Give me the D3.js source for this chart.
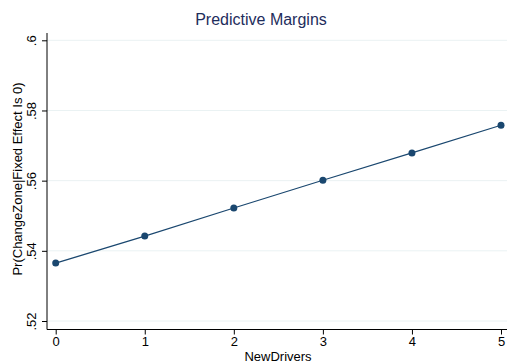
<!DOCTYPE html>
<html><head><meta charset="utf-8">
<script src="https://cdn.jsdelivr.net/npm/d3@7/dist/d3.min.js"></script>
<style>body{margin:0;background:#fff}svg{display:block}text{font-family:"Liberation Sans",Arial,sans-serif}</style>
</head><body><svg id="c" width="507" height="362"></svg>
<script>
const xValues = [0, 1, 2, 3, 4, 5];
const margins = [0.5365, 0.5442, 0.5522, 0.5601, 0.5679, 0.5758];
const yTicks = [0.52, 0.54, 0.56, 0.58, 0.6];
const yTickLabels = [".52", ".54", ".56", ".58", ".6"];
const chartTitle = "Predictive Margins";
const xTitle = "NewDrivers";
const yTitle = "Pr(ChangeZone|Fixed Effect Is 0)";

const svg = d3.select("#c");
const x = d3.scaleLinear().domain([0, 5]).range([55.7, 501]);
const y = d3.scaleLinear().domain([0.52, 0.6]).range([321, 40.3]);
const pLeft = 47, pBottom = 329.5, pRight = 507, pTop = 33;
const ff = '"Liberation Sans",Arial,sans-serif';

// gridlines
svg.append("g").selectAll("line").data(yTicks).join("line")
  .attr("x1", pLeft).attr("x2", pRight)
  .attr("y1", d => y(d)).attr("y2", d => y(d))
  .attr("stroke", "#eaf2f3").attr("stroke-width", 1);

// y axis
const ya = svg.append("g").attr("transform", `translate(${pLeft},0)`)
  .call(d3.axisLeft(y).tickValues(yTicks).tickFormat((d,i) => yTickLabels[i]).tickSize(5).tickSizeOuter(0));
ya.select(".domain").attr("d", `M0,${pTop}V${pBottom}`).attr("stroke", "#000");
ya.selectAll(".tick line").attr("stroke", "#000");
ya.selectAll(".tick text").attr("transform", "rotate(-90)").attr("x", 0).attr("y", -11.5)
  .attr("dy", 0).attr("text-anchor", "middle").attr("font-size", 13).attr("fill", "#000")
  .style("font-family", ff);

// x axis
const xa = svg.append("g").attr("transform", `translate(0,${pBottom})`)
  .call(d3.axisBottom(x).tickValues(xValues).tickFormat(d3.format("d")).tickSize(5).tickSizeOuter(0));
xa.select(".domain").attr("d", `M${pLeft},0H${pRight}`).attr("stroke", "#000");
xa.selectAll(".tick line").attr("stroke", "#000");
xa.selectAll(".tick text").attr("font-size", 13).attr("fill", "#000").attr("y", 7).attr("dy", "0.71em")
  .style("font-family", ff);

// line
svg.append("path").datum(xValues.map((d,i) => [d, margins[i]]))
  .attr("fill", "none").attr("stroke", "#1a476f").attr("stroke-width", 1.2)
  .attr("d", d3.line().x(d => x(d[0])).y(d => y(d[1])));
svg.append("g").selectAll("circle").data(xValues).join("circle")
  .attr("cx", d => x(d)).attr("cy", (d,i) => y(margins[i])).attr("r", 3.5)
  .attr("fill", "#1a476f");

// titles
svg.append("text").attr("x", 261).attr("y", 25).attr("text-anchor", "middle")
  .attr("font-size", 16).attr("fill", "#1e2d5c").text(chartTitle);
svg.append("text").attr("x", 278).attr("y", 360.5).attr("text-anchor", "middle")
  .attr("font-size", 13).attr("fill", "#000").text(xTitle);
svg.append("text").attr("transform", `translate(21.5,179) rotate(-90)`)
  .attr("text-anchor", "middle").attr("font-size", 13).attr("fill", "#000").text(yTitle);
</script></body></html>
